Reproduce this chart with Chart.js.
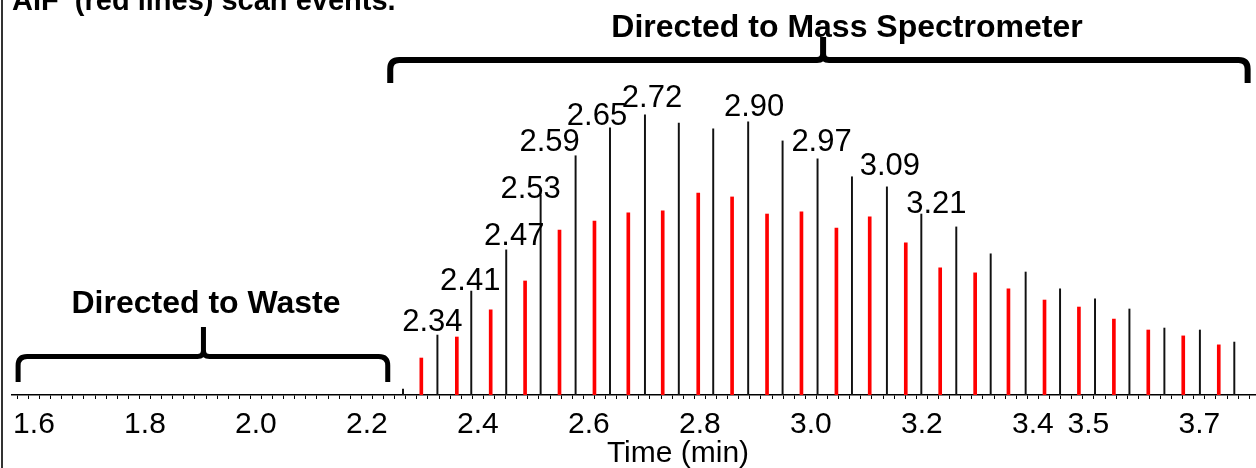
<!DOCTYPE html>
<html>
<head>
<meta charset="utf-8">
<script src="https://cdn.jsdelivr.net/npm/chart.js@4/dist/chart.umd.min.js"></script>
<style>
  body { margin: 0; background: #fff; }
  #wrap { width: 1256px; height: 468px; position: relative; }
</style>
</head>
<body>
<div id="wrap"><canvas id="myChart"></canvas></div>
<script>
const FONT = '"Liberation Sans", Arial, sans-serif';

// full MS scans (black lines): retention time (min) and relative intensity (%)
const blackTimes = [2.265, 2.327, 2.388, 2.451, 2.513, 2.576, 2.638, 2.701, 2.762, 2.824, 2.887, 2.949, 3.012,
  3.074, 3.137, 3.199, 3.262, 3.324, 3.387, 3.449, 3.512, 3.574, 3.637, 3.701, 3.763];
const blackValues = [2.1, 21.4, 37.1, 51.8, 71.4, 85.4, 95.4, 100, 97.1, 95.0, 97.5, 90.7, 84.3,
  77.9, 74.3, 64.6, 60.0, 50.4, 43.9, 37.9, 34.3, 30.7, 23.9, 23.2, 18.9];
const peakLabels = [null, "2.34", "2.41", "2.47", "2.53", "2.59", "2.65", "2.72", null, null, "2.90", null, "2.97",
  null, "3.09", "3.21", null, null, null, null, null, null, null, null, null];

// AIF scans (red lines)
const redTimes = [2.298, 2.362, 2.423, 2.485, 2.547, 2.610, 2.671, 2.733, 2.797, 2.858, 2.921, 2.983,
  3.046, 3.106, 3.171, 3.233, 3.296, 3.356, 3.421, 3.483, 3.546, 3.608, 3.671, 3.735];
const redValues = [13.2, 20.7, 30.4, 40.7, 58.9, 62.1, 65.0, 65.7, 72.1, 70.7, 64.6, 65.4,
  59.6, 63.6, 54.3, 45.4, 43.6, 37.9, 33.9, 31.4, 27.1, 23.2, 21.1, 17.9];

const tickLabels = ["1.6", "1.8", "2.0", "2.2", "2.4", "2.6", "2.8", "3.0", "3.2", "3.4", "3.5", "3.7"];

// label nudges in px [dx, gap above line top]
const labelOffsets = {
  "2.34": [-5, 4], "2.41": [-1, 1], "2.47": [8, 5], "2.53": [-10, -3], "2.59": [-26, 5], "2.65": [-13, 3],
  "2.72": [7, 8], "2.90": [6, 6], "2.97": [4, 8], "3.09": [3, 12], "3.21": [15, 1]
};

function brace(ctx, x1, x2, xm, yLine, yEnd, yTip, w) {
  const r = 9;
  ctx.lineWidth = w;
  ctx.lineJoin = "round";
  ctx.beginPath();
  ctx.moveTo(x1, yEnd);
  ctx.lineTo(x1, yLine + r);
  ctx.quadraticCurveTo(x1, yLine, x1 + r, yLine);
  ctx.lineTo(xm - 6, yLine);
  ctx.quadraticCurveTo(xm, yLine, xm, yLine - 6);
  ctx.lineTo(xm, yTip);
  ctx.moveTo(xm, yLine - 6);
  ctx.quadraticCurveTo(xm, yLine, xm + 6, yLine);
  ctx.lineTo(x2 - r, yLine);
  ctx.quadraticCurveTo(x2, yLine, x2, yLine + r);
  ctx.lineTo(x2, yEnd);
  ctx.stroke();
}

const overlay = {
  id: "overlay",
  afterDraw(chart) {
    const ctx = chart.ctx;
    const xs = chart.scales.x;
    const ys = chart.scales.y;
    ctx.save();

    // frame line on the left
    ctx.strokeStyle = "#333";
    ctx.lineWidth = 2;
    ctx.beginPath();
    ctx.moveTo(2, 0);
    ctx.lineTo(2, chart.height);
    ctx.stroke();

    // retention time labels
    ctx.fillStyle = "#000";
    ctx.font = "31px " + FONT;
    ctx.textAlign = "center";
    ctx.textBaseline = "alphabetic";
    peakLabels.forEach((lab, i) => {
      if (!lab) return;
      const off = labelOffsets[lab] || [0, 4];
      const px = xs.getPixelForValue(blackTimes[i]);
      const py = ys.getPixelForValue(blackValues[i]);
      ctx.fillText(lab, px + off[0], py - off[1]);
    });

    // braces
    ctx.strokeStyle = "#000";
    brace(ctx, xs.getPixelForValue(2.242), xs.getPixelForValue(3.787), xs.getPixelForValue(3.022), 60, 83, 37, 6);
    brace(ctx, xs.getPixelForValue(1.5714), xs.getPixelForValue(2.2375), xs.getPixelForValue(1.9054), 356.5, 382, 327, 5);

    ctx.font = "bold 32px " + FONT;
    ctx.fillText("Directed to Mass Spectrometer", 847, 37);
    ctx.fillText("Directed to Waste", 206, 313);

    ctx.font = "bold 29px " + FONT;
    ctx.textAlign = "left";
    ctx.fillText("AIF  (red lines) scan events.", 12, 10);

    ctx.font = "30px " + FONT;
    ctx.textAlign = "center";
    ctx.fillText("Time (min)", 678, 462);
    ctx.restore();
  }
};

const ctx = document.getElementById("myChart").getContext("2d");
const myChart = new Chart(ctx, {
  type: "bar",
  data: {
    datasets: [
      {
        label: "MS",
        data: blackTimes.map((t, i) => ({ x: t, y: blackValues[i] })),
        backgroundColor: "#111",
        barThickness: 1.3,
        grouped: false,
      },
      {
        label: "AIF",
        data: redTimes.map((t, i) => ({ x: t, y: redValues[i] })),
        backgroundColor: "#ff0000",
        barThickness: 3,
        grouped: false,
      },
    ],
  },
  options: {
    responsive: true,
    maintainAspectRatio: false,
    animation: false,
    layout: { padding: { left: 12, right: 0, top: 0, bottom: 0 } },
    plugins: { legend: { display: false }, tooltip: { enabled: false } },
    scales: {
      x: {
        type: "linear",
        min: 1.5705,
        max: 3.792,
        afterBuildTicks: (s) => {
          const t = [];
          for (let i = 79; i <= 189; i++) t.push({ value: i / 50 });
          s.ticks = t;
        },
        afterFit: (s) => {
          s.height = 73;
        },
        ticks: {
          autoSkip: false,
          maxRotation: 0,
          padding: 8,
          color: "#000",
          font: { size: 30, family: FONT },
          callback: (v) => {
            const s = v.toFixed(1);
            return Math.abs(v * 10 - Math.round(v * 10)) < 1e-6 && tickLabels.includes(s) ? s : "";
          },
        },
        grid: { drawOnChartArea: false, tickLength: 4, color: "#000", lineWidth: 1 },
        border: { color: "#000", width: 1.5 },
      },
      y: {
        display: false,
        min: 0,
        max: 141,
      },
    },
  },
  plugins: [overlay],
});
</script>
</body>
</html>
